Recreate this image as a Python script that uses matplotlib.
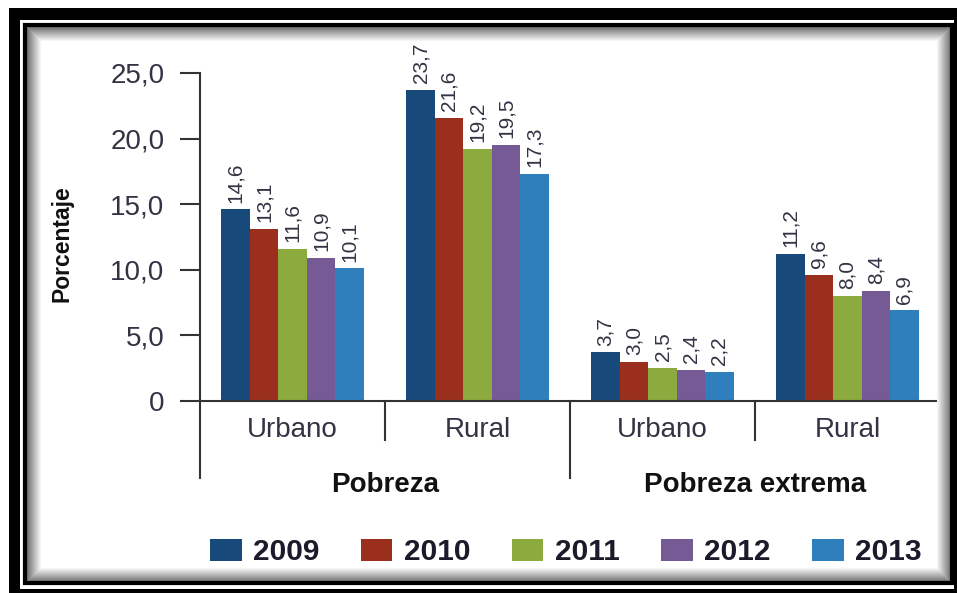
import numpy as np
import matplotlib
matplotlib.use('Agg')
import matplotlib.pyplot as plt
from matplotlib.patches import Rectangle
from matplotlib.lines import Line2D

# data
years = ['2009', '2010', '2011', '2012', '2013']
subgroups = ['Urbano', 'Rural', 'Urbano', 'Rural']
groups = ['Pobreza', 'Pobreza extrema']
values = {
    '2009': [14.6, 23.7, 3.7, 11.2],
    '2010': [13.1, 21.6, 3.0, 9.6],
    '2011': [11.6, 19.2, 2.5, 8.0],
    '2012': [10.9, 19.5, 2.4, 8.4],
    '2013': [10.1, 17.3, 2.2, 6.9],
}
colors = ['#17497b', '#9b2f1d', '#8daa3f', '#755a96', '#2f7fbd']
yticks = [0, 5, 10, 15, 20, 25]

W, H = 957, 593
plt.rcParams['font.family'] = ['Liberation Sans', 'DejaVu Sans']
fig = plt.figure(figsize=(W / 100, H / 100), dpi=100)

def fx(x):
    return x / W

def fy(y):
    return 1 - y / H

# frame: outer thick black, inner thin black, soft gray shadow
def frect(x0, y0, x1, y1, **kw):
    fig.patches.append(Rectangle((fx(x0), fy(y1)), fx(x1) - fx(x0), fy(y0) - fy(y1),
                                 transform=fig.transFigure, **kw))

frect(9, 8, 20, 593, facecolor='black', edgecolor='none')
frect(9, 8, 957, 20, facecolor='black', edgecolor='none')
frect(954, 8, 957, 593, facecolor='black', edgecolor='none')
frect(9, 589, 957, 593, facecolor='black', edgecolor='none')
for i in range(14):
    g = 0.45 + 0.55 * i / 14
    frect(27 + i, 27 + i, 950 - i, 581 - i, facecolor='none',
          edgecolor=(g, g, g), linewidth=0.75)
frect(25, 25, 952, 583, facecolor='none', edgecolor='black', linewidth=3)

ax = fig.add_axes([fx(200), fy(401), fx(940) - fx(200), fy(73) - fy(401)])
n = len(years)
width = 0.154
x = np.arange(len(subgroups)) + 0.5
handles = []
for i, yr in enumerate(years):
    pos = x + (i - (n - 1) / 2) * width
    b = ax.bar(pos, values[yr], width, color=colors[i], label=yr, zorder=2)
    handles.append(b)
    for p, v in zip(pos, values[yr]):
        ax.annotate(f'{v:.1f}'.replace('.', ','), (p, v), xytext=(0, 5),
                    textcoords='offset points', rotation=90, ha='center', va='bottom',
                    fontsize=15, color='#333344', annotation_clip=False)

ax.set_xlim(0, len(subgroups))
ax.set_ylim(0, 25)
ax.set_yticks(yticks)
ax.set_yticklabels(['0' if t == 0 else f'{t:.1f}'.replace('.', ',') for t in yticks])
ax.tick_params(axis='y', length=14.5, width=1.5, color='#333333', pad=11,
               labelsize=20, labelcolor='#333344')
ax.set_xticks([])
for s in ['top', 'right']:
    ax.spines[s].set_visible(False)
for s in ['left', 'bottom']:
    ax.spines[s].set_linewidth(1.5)
    ax.spines[s].set_color('#333333')

# category dividers and labels
trans = ax.get_xaxis_transform()
for xd in range(len(subgroups) + 1):
    depth = -0.235 if xd % 2 == 0 else -0.119
    ax.add_line(Line2D([xd, xd], [0, depth], transform=trans, color='#333333',
                       linewidth=1.5, clip_on=False))
for xc, lab in zip(x, subgroups):
    ax.text(xc, -0.088, lab, transform=trans, ha='center', va='center',
            fontsize=20, color='#333344')
for k, g in enumerate(groups):
    ax.text(2 * k + 1, -0.256, g, transform=trans, ha='center', va='center',
            fontsize=20, fontweight='bold', color='#111111')

fig.text(fx(62), fy(244), 'Porcentaje', rotation=90, ha='center', va='center',
         fontsize=16.5, fontweight='bold', color='#111111')

leg = fig.legend(handles=handles, labels=years, loc='center', ncol=5,
                 bbox_to_anchor=(fx(566), fy(552)), frameon=False,
                 prop={'size': 21.5, 'weight': 'bold'},
                 handlelength=1.05, handleheight=0.75, handletextpad=0.38,
                 columnspacing=1.4, borderpad=0)
for t in leg.get_texts():
    t.set_color('#1a1a2a')

fig.savefig('out.png', dpi=100)
